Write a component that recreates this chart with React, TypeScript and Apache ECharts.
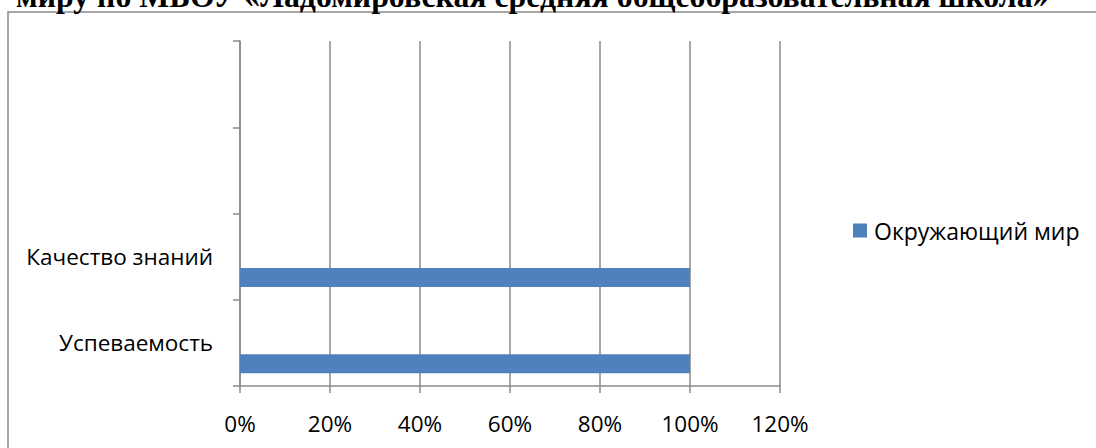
import React, { useEffect, useRef } from "react";
import * as echarts from "echarts";

const titleText = "миру по МБОУ «Ладомировская средняя общеобразовательная школа»";
const categories = ["Успеваемость", "Качество знаний", "", ""];
const seriesName = "Окружающий мир";
const seriesValues = [1, 1, null, null];
const phantomValues = [null, null, null, null];
const xTicks = [0, 0.2, 0.4, 0.6, 0.8, 1.0, 1.2];

const GRAY = "#8a8a8a";
const FONT = "'Open Sans', 'Noto Sans', sans-serif";

export default function App() {
  const ref = useRef<HTMLDivElement>(null);
  useEffect(() => {
    document.body.style.margin = "0";
    const chart = echarts.init(ref.current!, undefined, { renderer: "svg" });
    chart.setOption({
      animation: false,
      backgroundColor: "#ffffff",
      graphic: [
        {
          type: "rect",
          shape: { x: 8, y: 12, width: 1200, height: 600 },
          style: { fill: "none", stroke: GRAY, lineWidth: 1.5 },
          silent: true,
          z: 0,
        },
        {
          type: "text",
          x: 16,
          y: 12,
          style: {
            text: titleText,
            font: "bold 31.8px 'Liberation Serif', serif",
            fill: "#000",
            verticalAlign: "bottom",
            align: "left",
          },
        },
      ],
      grid: { left: 240, right: 316, top: 41, bottom: 62, containLabel: false },
      legend: {
        data: [seriesName],
        orient: "vertical",
        left: 853,
        top: 219,
        padding: 0,
        itemWidth: 14,
        itemHeight: 14,
        itemGap: 10,
        icon: "rect",
        textStyle: { fontFamily: FONT, fontSize: 23, color: "#000", padding: [0, 0, 0, 2] },
      },
      xAxis: {
        type: "value",
        min: 0,
        max: 1.2,
        interval: 0.2,
        axisLine: { show: true, lineStyle: { color: GRAY, width: 1.5 } },
        axisTick: { show: true, length: 7, lineStyle: { color: GRAY, width: 1.5 } },
        splitLine: { show: true, lineStyle: { color: GRAY, width: 1.5 } },
        axisLabel: {
          fontFamily: FONT,
          fontSize: 22.5,
          color: "#000",
          margin: 26,
          formatter: (v: number) => {
            const t = xTicks.find((x) => Math.abs(x - v) < 1e-9);
            return `${Math.round((t ?? v) * 100)}%`;
          },
        },
      },
      yAxis: {
        type: "category",
        data: categories,
        axisLine: { show: true, lineStyle: { color: GRAY, width: 1.5 } },
        axisTick: { show: true, length: 7, lineStyle: { color: GRAY, width: 1.5 } },
        splitLine: { show: false },
        axisLabel: { fontFamily: FONT, fontSize: 22.5, color: "#000", margin: 27 },
      },
      series: [
        {
          name: "phantom",
          type: "bar",
          data: phantomValues,
          barWidth: 19,
          barGap: "121%",
          itemStyle: { color: "transparent" },
          silent: true,
        },
        {
          name: seriesName,
          type: "bar",
          data: seriesValues,
          barWidth: 19,
          barGap: "121%",
          itemStyle: { color: "#4f81bd" },
        },
      ],
    });
    return () => chart.dispose();
  }, []);
  return <div ref={ref} style={{ width: 1096, height: 448 }} />;
}
